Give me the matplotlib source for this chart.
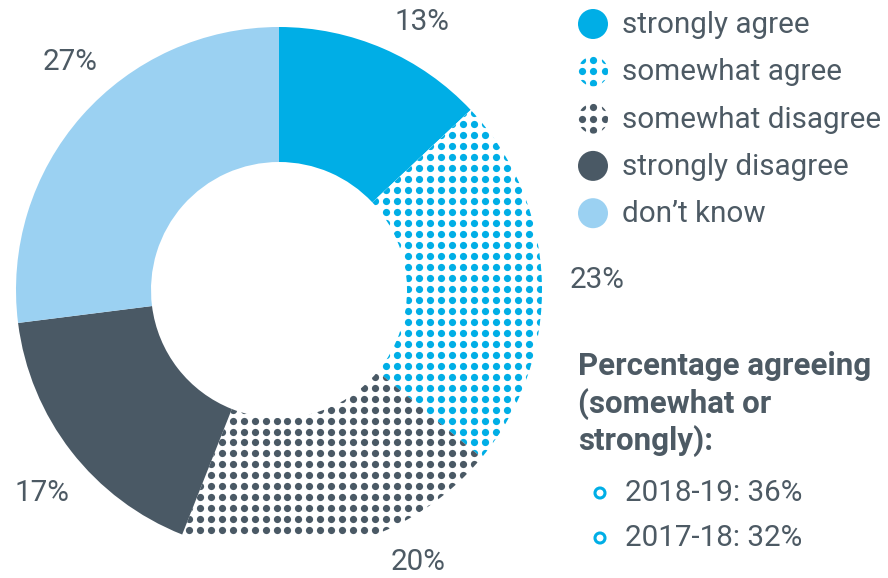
import numpy as np
import matplotlib.pyplot as plt
from matplotlib.patches import Circle

plt.rcParams['font.family'] = ['Roboto', 'DejaVu Sans']

categories = ['strongly agree', 'somewhat agree', 'somewhat disagree',
              'strongly disagree', 'don\u2019t know']
shares = [13, 23, 20, 17, 27]
pct_labels = ['13%', '23%', '20%', '17%', '27%']
agree_years = ['2018-19', '2017-18']
agree_pct = [36, 32]

CYAN = '#00aee6'
SLATE = '#4a5965'
LIGHT = '#9bd1f2'
TEXT = '#4d5a64'

base_colors = [CYAN, 'white', 'white', SLATE, LIGHT]
dotted = [None, CYAN, SLATE, None, None]

W, H = 888, 578
FS = 21.3
fig = plt.figure(figsize=(W / 100, H / 100), dpi=100)
ax = fig.add_axes([0, 0, 1, 1])

# donut, clockwise from 12 o'clock
cx, cy, R = 279, H - 290, 263
wedges, _ = ax.pie(shares, colors=base_colors, startangle=90, counterclock=False,
                   center=(cx, cy), radius=R,
                   wedgeprops=dict(width=135, linewidth=0))


def dot_fill(patch, color, xs, ys, size=27):
    gx, gy = np.meshgrid(xs, ys)
    sc = ax.scatter(gx.ravel(), gy.ravel(), s=size, color=color,
                    linewidths=0, zorder=3)
    sc.set_clip_path(patch)


step = 10.97
grid_x = 210.7 + step * np.arange(-20, 33)
grid_y = (H - 508.3) + step * np.arange(-2, 52)
for w, c in zip(wedges, dotted):
    if c:
        dot_fill(w, c, grid_x, grid_y)

# percentage labels around the ring
label_pos = [(422, H - 22), (597, H - 280), (418, H - 562),
             (42, H - 493), (70, H - 62)]
for (lx, ly), t in zip(label_pos, pct_labels):
    ax.text(lx, ly, t, fontsize=FS, color=TEXT, ha='center', va='center')

# legend
ly0, lstep = H - 24, 47.3
for i, (cat, col, dc) in enumerate(zip(categories, base_colors, dotted)):
    y = ly0 - i * lstep
    circ = Circle((593, y), 15, facecolor=col, edgecolor='none', zorder=2)
    ax.add_patch(circ)
    if dc:
        offs = np.array([-11.5, 0, 11.5])
        dot_fill(circ, dc, 593 + offs, y + offs, size=27)
    ax.text(622, y - 1, cat, fontsize=FS, color=TEXT, ha='left', va='center')

# agreement summary
for line, base in zip(['Percentage agreeing', '(somewhat or', 'strongly):'],
                      [375, 413, 450]):
    ax.text(578, H - base, line, fontsize=22.5, fontweight='bold', color=TEXT,
            ha='left', va='baseline')
for i, (yr, p) in enumerate(zip(agree_years, agree_pct)):
    y = H - 493 - i * 45
    ax.add_patch(Circle((600, y), 5, facecolor='white', edgecolor=CYAN,
                        linewidth=2.2, zorder=2))
    ax.text(625, y, f'{yr}: {p}%', fontsize=FS, color=TEXT, ha='left',
            va='center')

ax.set_xlim(0, W)
ax.set_ylim(0, H)
ax.set_aspect('auto')
ax.axis('off')

fig.savefig('out.png', dpi=100, facecolor='white')
